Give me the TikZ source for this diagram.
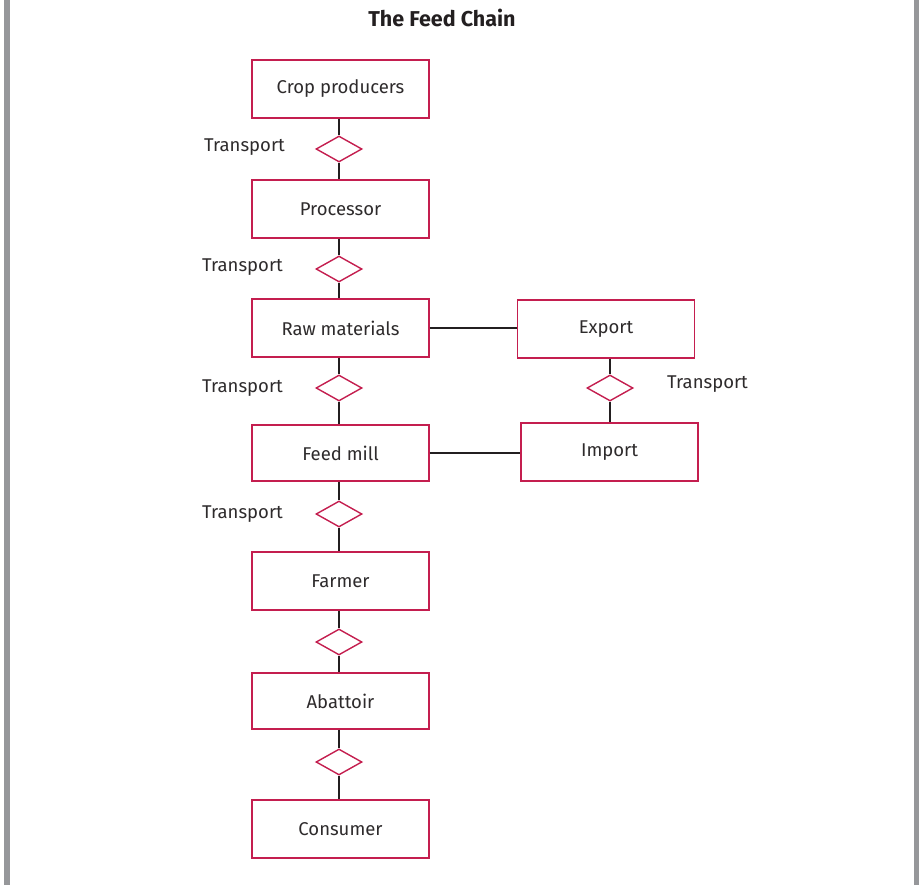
\documentclass[tikz,border=0pt]{standalone}
\usepackage{fontspec}
\setmainfont{Fira Sans}
\usetikzlibrary{shapes.geometric}
\definecolor{boxred}{HTML}{C41E4F}
\definecolor{ink}{HTML}{231F20}
\definecolor{txt}{HTML}{2E2B2C}
\definecolor{rule}{HTML}{96979A}
\tikzset{
  stage/.style={draw=boxred, line width=1.4pt, fill=white, minimum width=177pt,
    minimum height=58pt, inner sep=0pt, text=txt, font=\fontsize{18.5}{21}\selectfont},
  link/.style={draw=boxred, line width=1.4pt, diamond, fill=white, minimum width=46pt,
    minimum height=26pt, inner sep=0pt},
  conn/.style={draw=ink, line width=1.8pt},
  lbl/.style={text=txt, font=\fontsize{18.5}{21}\selectfont, inner sep=0pt},
}
\begin{document}
\begin{tikzpicture}[x=1pt, y=-1pt]
  \useasboundingbox (0,0) rectangle (919,885);
  % side rules
  \fill[rule] (4,0) rectangle (10,885);
  \fill[rule] (914,0) rectangle (919,885);

  \node[text=ink, font=\fontsize{21.5}{24}\selectfont\bfseries] (title) at (442,18) {The Feed Chain};

  % main chain
  \node[stage] (crop) at (340.5,89) {Crop producers};
  \node[stage] (proc) at (340.5,209) {Processor};
  \node[stage] (raw)  at (340.5,328) {Raw materials};
  \node[stage, minimum height=56pt] (mill) at (340.5,453) {Feed mill};
  \node[stage] (farm) at (340.5,581) {Farmer};
  \node[stage, minimum height=56pt] (abat) at (340.5,701) {Abattoir};
  \node[stage] (cons) at (340.5,829) {Consumer};

  % trade branch
  \node[stage] (exp) at (606,329) {Export};
  \node[stage] (imp) at (609.5,452) {Import};

  % transport links
  \node[link] (d1) at (339,149) {};
  \node[link] (d2) at (339,269) {};
  \node[link] (d3) at (339,388) {};
  \node[link] (d4) at (339,514) {};
  \node[link] (d5) at (339,642) {};
  \node[link] (d6) at (339,762) {};
  \node[link] (d7) at (610,388) {};

  % connectors
  \draw[conn] (crop.south -| d1) -- (d1.north);
  \draw[conn] (d1.south) -- (proc.north -| d1);
  \draw[conn] (proc.south -| d2) -- (d2.north);
  \draw[conn] (d2.south) -- (raw.north -| d2);
  \draw[conn] (raw.south -| d3) -- (d3.north);
  \draw[conn] (d3.south) -- (mill.north -| d3);
  \draw[conn] (mill.south -| d4) -- (d4.north);
  \draw[conn] (d4.south) -- (farm.north -| d4);
  \draw[conn] (farm.south -| d5) -- (d5.north);
  \draw[conn] (d5.south) -- (abat.north -| d5);
  \draw[conn] (abat.south -| d6) -- (d6.north);
  \draw[conn] (d6.south) -- (cons.north -| d6);
  \draw[conn] (exp.south -| d7) -- (d7.north);
  \draw[conn] (d7.south) -- (imp.north -| d7);
  \draw[conn] (raw.east) -- (exp.west |- raw.east);
  \draw[conn] (mill.east) -- (imp.west |- mill.east);

  \node[lbl, anchor=east] (t1) at (285,147) {Transport};
  \node[lbl, anchor=east] (t2) at (283,267) {Transport};
  \node[lbl, anchor=east] (t3) at (283,388) {Transport};
  \node[lbl, anchor=east] (t4) at (283,514) {Transport};
  \node[lbl, anchor=west] (t5) at (667,384) {Transport};
\end{tikzpicture}
\end{document}
